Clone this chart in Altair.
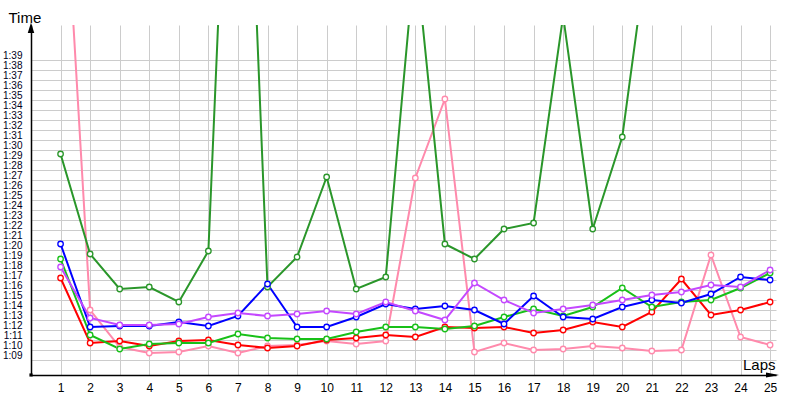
import altair as alt
import pandas as pd

# ---- data (lap times in seconds) ----
laps = list(range(1, 26))
series_names = ["Pink", "Dark green", "Red", "Green", "Blue", "Violet"]
series_colors = ["#ff8aac", "#2a962a", "#ff0000", "#18c018", "#0000ff", "#c448ff"]

pink = [124.5, 74.0, 70.3, 69.7, 69.8, 70.4, 69.7, 70.4, 70.5, 70.9, 70.6, 70.9, 87.2,
        95.1, 69.8, 70.7, 70.0, 70.1, 70.4, 70.2, 69.9, 70.0, 79.5, 71.3, 70.5]
dark_green = [89.6, 79.6, 76.1, 76.3, 74.8, 79.9, 149.0, 76.3, 79.3, 87.3, 76.1, 77.3, 109.8,
              80.6, 79.1, 82.1, 82.7, 103.4, 82.1, 91.3, 113.2, None, None, None, None]
red = [77.2, 70.7, 70.9, 70.4, 70.9, 71.0, 70.5, 70.2, 70.4, 71.0, 71.2, 71.5, 71.3,
       72.3, 72.2, 72.3, 71.7, 72.0, 72.8, 72.3, 73.8, 77.1, 73.5, 74.0, 74.8]
green = [79.1, 71.5, 70.1, 70.6, 70.7, 70.7, 71.6, 71.2, 71.1, 71.1, 71.8, 72.3, 72.3,
         72.1, 72.4, 73.3, 74.1, 73.4, 74.3, 76.2, 74.3, 74.8, 75.0, 76.2, 77.7]
blue = [80.6, 72.3, 72.4, 72.4, 72.8, 72.4, 73.4, 76.6, 72.3, 72.3, 73.3, 74.6, 74.1,
        74.4, 74.0, 72.6, 75.4, 73.3, 73.1, 74.3, 75.0, 74.7, 75.6, 77.3, 77.0]
violet = [78.3, 73.2, 72.5, 72.5, 72.6, 73.3, 73.7, 73.4, 73.6, 73.9, 73.6, 74.8, 73.9,
          73.0, 76.7, 75.0, 73.7, 74.1, 74.5, 75.0, 75.5, 75.8, 76.5, 76.3, 78.0]

y_tick_values = list(range(69, 100))  # 1:09 .. 1:39
x_tick_values = laps
y_domain = [67.5, 102.5]
x_domain = [0, 25.2]

series_values = [pink, dark_green, red, green, blue, violet]
rows = []
for name, vals in zip(series_names, series_values):
    for lap, v in zip(laps, vals):
        if v is not None:
            rows.append({"lap": lap, "time": v, "series": name})
df = pd.DataFrame(rows)

FONT = "Liberation Sans"

color = alt.Color("series:N", scale=alt.Scale(domain=series_names, range=series_colors), legend=None)

x_axis = alt.Axis(
    values=x_tick_values, grid=True, gridColor="#cccccc", gridWidth=1,
    domainColor="black", domainWidth=1.5, ticks=False, tickSize=0,
    labelOverlap=False, labelFlush=False, labelBound=False,
    labelFont=FONT, labelFontSize=12, labelColor="#000000", labelPadding=7,
    title="Laps", titleFont=FONT, titleFontSize=15, titleFontWeight="normal",
    titleColor="#000000", titleX=744, titleY=-6, titleAlign="right",
    titleBaseline="alphabetic", titleAnchor="end",
)
y_axis = alt.Axis(
    values=y_tick_values, grid=True, gridColor="#cccccc", gridWidth=1,
    domainColor="black", domainWidth=1.5, ticks=False, tickSize=0,
    labelOverlap=False, labelFlush=False, labelBound=False,
    labelFont=FONT, labelFontSize=10, labelColor="#000020", labelPadding=9,
    labelOffset=-5,
    labelExpr="floor(datum.value / 60) + ':' + (datum.value % 60 < 10 ? '0' : '') + (datum.value % 60)",
    title="Time", titleFont=FONT, titleFontSize=15, titleFontWeight="normal",
    titleColor="#000000", titleAngle=0, titleX=-23, titleY=-3, titleAlign="left",
    titleBaseline="alphabetic",
)
x_scale = alt.Scale(domain=x_domain, nice=False, zero=False)
y_scale = alt.Scale(domain=y_domain, nice=False, zero=False)

x_enc = alt.X("lap:Q", scale=x_scale, axis=x_axis)
y_enc = alt.Y("time:Q", scale=y_scale, axis=y_axis)

base = alt.Chart(df)
lines = base.mark_line(strokeWidth=2, clip=True).encode(x=x_enc, y=y_enc, color=color, detail="series:N")
points = base.mark_point(shape="circle", size=30, filled=False, fill="white", fillOpacity=1,
                         strokeWidth=1.3, opacity=1, clip=True).encode(
    x=x_enc, y=y_enc, color=color)

# axis decorations (arrows and origin marker) positioned via the scales
def xd(v):
    return alt.XDatum(v, type="quantitative", scale=x_scale, axis=x_axis)

def yd(v):
    return alt.YDatum(v, type="quantitative", scale=y_scale, axis=y_axis)

y_arrow = alt.Chart().mark_point(
    shape="M0,-0.5L0.65,1.6L-0.65,1.6Z", size=100, filled=True, color="black", opacity=1
).encode(x=xd(x_domain[0]), y=yd(y_domain[1]))
x_arrow = alt.Chart().mark_point(
    shape="M0.6,0L-2,-0.5L-2,0.5Z", size=100, filled=True, color="black", opacity=1
).encode(x=xd(x_domain[1]), y=yd(y_domain[0]))
origin = alt.Chart().mark_square(size=10, color="black", opacity=1).encode(
    x=xd(x_domain[0]), y=yd(y_domain[0]))

chart = alt.layer(lines, points, y_arrow, x_arrow, origin).properties(
    width=745, height=350,
    autosize=alt.AutoSizeParams(type="none"),
    padding={"left": 31, "top": 25, "right": 24, "bottom": 25},
    background="white",
).configure_view(stroke=None).configure_axis(labelOverlap=False)

chart.save("out.html", embed_options={"renderer": "svg", "actions": False})
